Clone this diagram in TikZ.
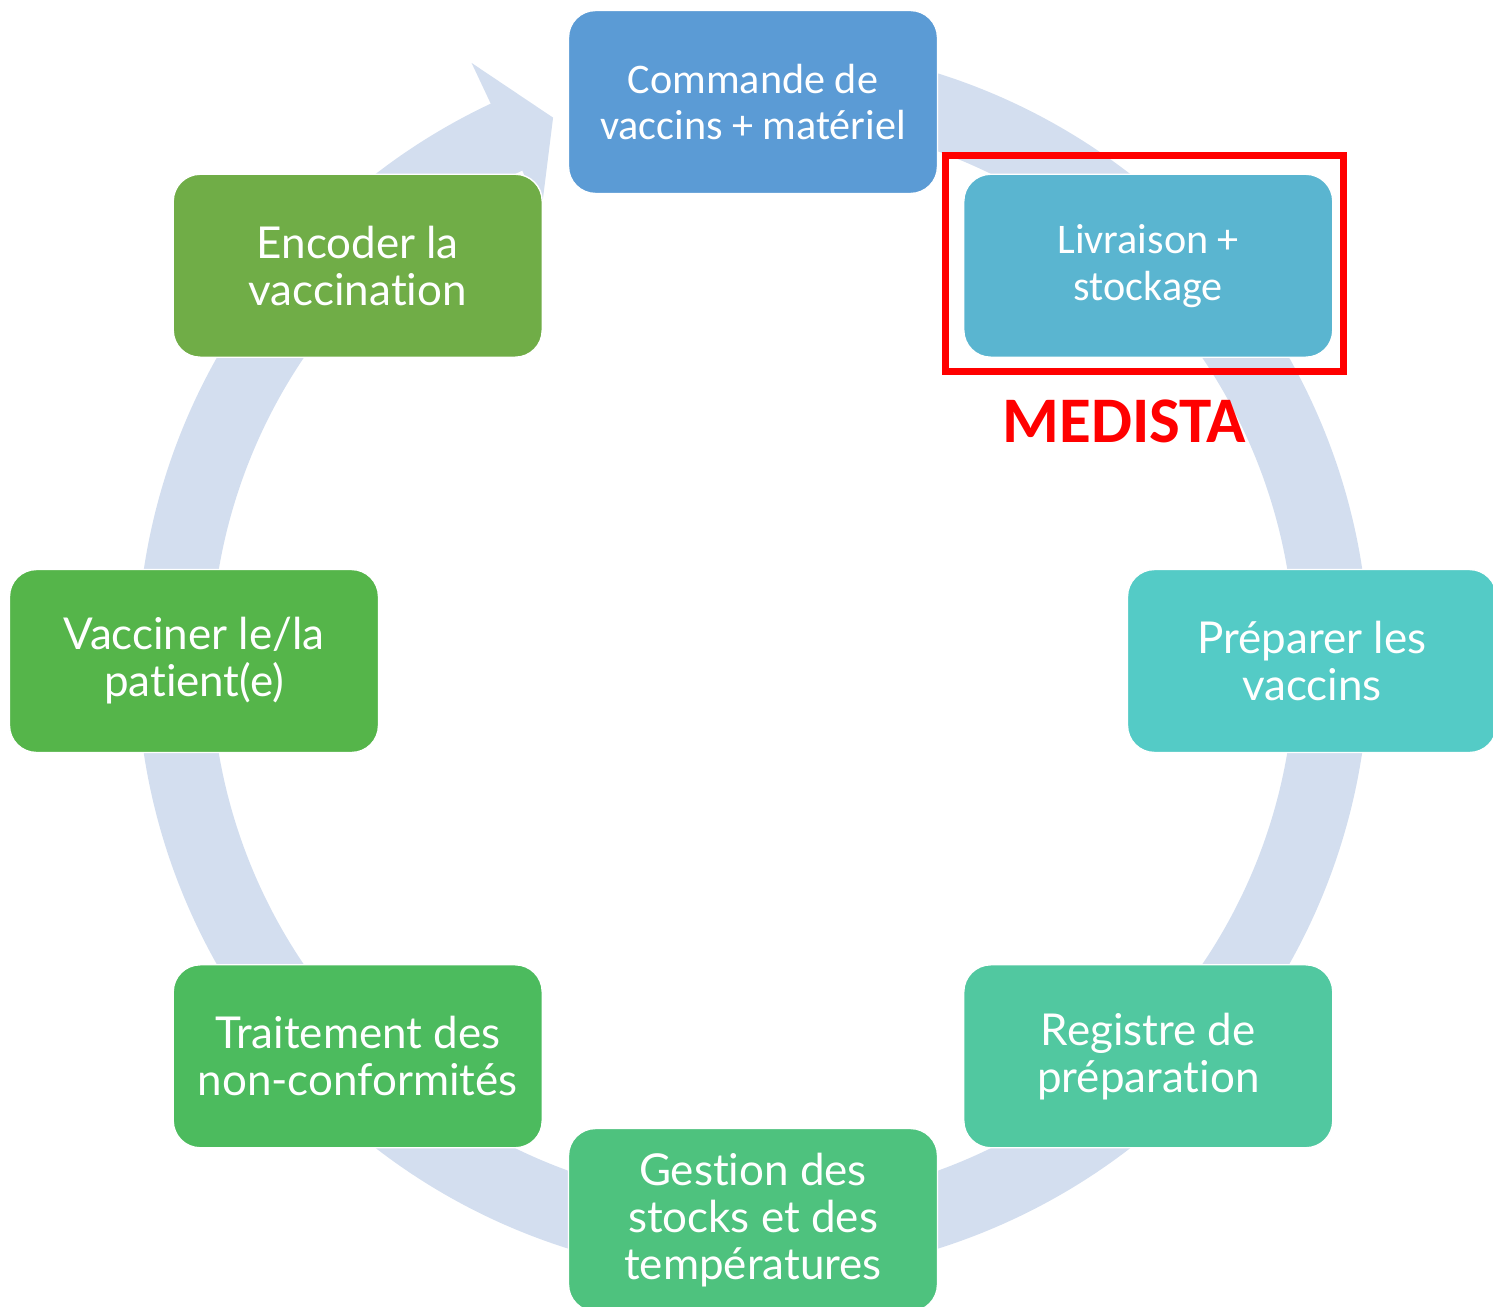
\documentclass[tikz,border=0pt]{standalone}
\usepackage{fontspec}
\setmainfont{Lato}[Ligatures=NoCommon]
\newfontfamily\calfont{Carlito}
\usetikzlibrary{positioning}

\definecolor{ringblue}{HTML}{D3DEEF}
\definecolor{cmdblue}{HTML}{5B9BD5}
\definecolor{livblue}{HTML}{5AB5D0}
\definecolor{prepteal}{HTML}{54CBC6}
\definecolor{regteal}{HTML}{51C8A0}
\definecolor{gestgreen}{HTML}{4EC27E}
\definecolor{traitgreen}{HTML}{4CBB5E}
\definecolor{vacgreen}{HTML}{55B54A}
\definecolor{encgreen}{HTML}{70AD47}
\definecolor{medred}{HTML}{FF0000}

\tikzset{
  stepbox/.style={rounded corners=0.54cm, minimum width=7.38cm, minimum height=3.66cm,
    draw=white, line width=0.8pt, text=white, align=center, inner sep=0pt,
    font=\fontsize{25}{26.7}\selectfont},
  calbox/.style={stepbox, font=\calfont\fontsize{24}{26.7}\selectfont},
  ring/.style={fill=ringblue},
}

\begin{document}
\begin{tikzpicture}
    \useasboundingbox (-15.06,-12.90) rectangle (14.80,13.22);
    \clip (-15.06,-12.90) rectangle (14.80,13.22);

    % Ring arrow behind the steps
    \fill[ring] (90:10.84) arc[start angle=90, end angle=-244.8, radius=10.84]
        -- (115.2:9.94) -- (110.2:11.58) -- (115.2:13.22) -- (115.2:12.32)
        arc[start angle=115.2, end angle=450, radius=12.32] -- cycle;

    % Steps
    \node[calbox, fill=cmdblue] (commande) at (90:11.18) {Commande de\\vaccins + matériel};
    \node[calbox, fill=livblue] (livraison) at (45:11.18) {Livraison +\\stockage};
    \node[stepbox, fill=prepteal] (preparer) at (0:11.18) {Préparer les\\vaccins};
    \node[stepbox, fill=regteal] (registre) at (-45:11.18) {Registre de\\préparation};
    \node[stepbox, fill=gestgreen] (gestion) at (-90:11.18) {Gestion des\\stocks et des\\températures};
    \node[stepbox, fill=traitgreen] (traitement) at (-135:11.18) {Traitement des\\non-conformités};
    \node[stepbox, fill=vacgreen] (vacciner) at (180:11.18) {Vacciner le/la\\patient(e)};
    \node[stepbox, fill=encgreen] (encoder) at (135:11.18) {Encoder la\\vaccination};

    % Highlight
    \node[draw=medred, line width=0.14cm, minimum width=7.96cm, minimum height=4.32cm,
        xshift=-0.07cm, yshift=0.05cm] (cadre) at (livraison) {};
    \node[below=0.5cm of cadre, xshift=-0.41cm, inner sep=0pt, text=medred,
        font=\calfont\bfseries\fontsize{37}{40}\selectfont] (medista) {MEDISTA};
\end{tikzpicture}
\end{document}
